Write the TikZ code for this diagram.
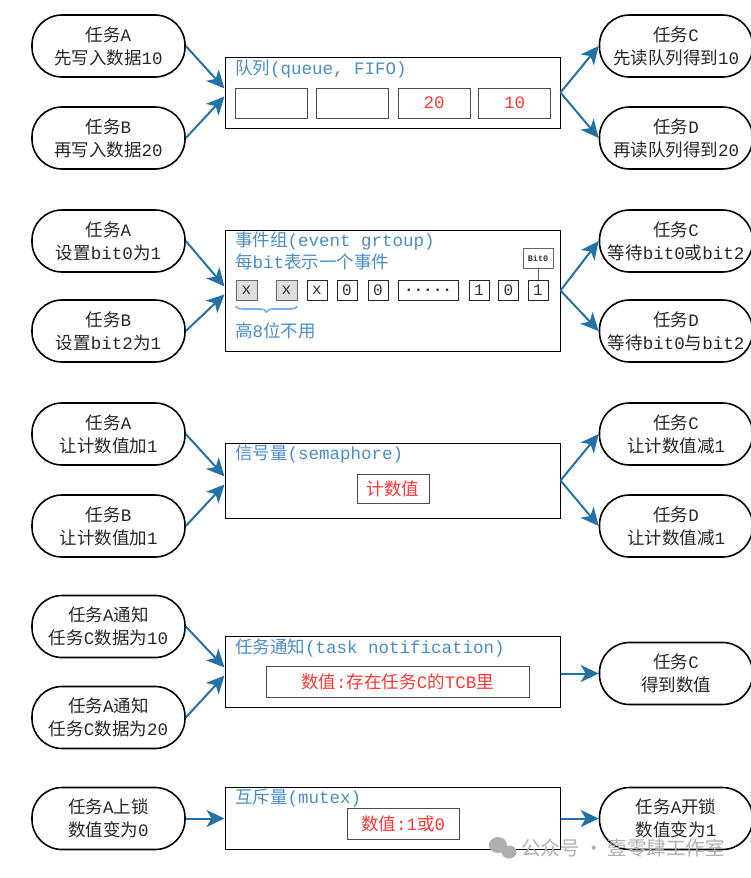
\documentclass[tikz,border=0pt]{standalone}
\usepackage{fontspec}
\setmainfont{Noto Sans CJK SC}
\newfontfamily\monof{Liberation Mono}
\usetikzlibrary{arrows.meta,decorations.pathreplacing,calc}
\definecolor{arrowblue}{RGB}{36,113,163}
\definecolor{titleblue}{RGB}{75,140,195}
\definecolor{redtxt}{RGB}{255,55,55}
\definecolor{cellgrey}{RGB}{222,222,222}
\definecolor{braceblue}{RGB}{125,175,225}
\definecolor{wmgrey}{RGB}{175,175,175}
\newcommand{\mylat}[1]{{\monof #1}}
\tikzset{
  taskbox/.style={draw, line width=1.6pt, rounded corners=30pt, minimum width=153pt, minimum height=62pt,
    align=center, inner sep=0pt, font=\fontsize{17.5}{23}\selectfont, text=black!85},
  bigbox/.style={draw, line width=1pt, minimum width=335pt, inner sep=0pt},
  titletxt/.style={anchor=west, inner sep=0pt, text=titleblue, font=\fontsize{17.5}{20}\selectfont},
  qcell/.style={draw=black!70, line width=0.9pt, minimum width=72pt, minimum height=30pt, inner sep=0pt,
    text=redtxt, font=\fontsize{17.5}{20}\selectfont\monof},
  bcell/.style={draw=black!85, line width=0.9pt, minimum width=20pt, minimum height=20pt, inner sep=0pt,
    font=\fontsize{16}{16}\selectfont\monof, text=black!80},
  gcell/.style={bcell, fill=cellgrey, draw=black!60, minimum width=21pt},
  redbox/.style={draw=black!70, line width=0.9pt, inner sep=0pt, text=redtxt, font=\fontsize{17.5}{20}\selectfont},
  ar/.style={draw=arrowblue, line width=2pt, -{Stealth[length=18pt,width=17pt,inset=5pt]}},
}
\begin{document}
\begin{tikzpicture}[x=1pt,y=-1pt]
\useasboundingbox (0,0) rectangle (751,878);

% ---------------- Row 1: queue
\node[taskbox] (TA1) at (108.5,46) {任务\mylat{A}\\先写入数据\mylat{10}};
\node[taskbox] (TB1) at (108.5,138) {任务\mylat{B}\\再写入数据\mylat{20}};
\node[bigbox, minimum height=71pt] (Q) at (392.5,92.5) {};
\node[titletxt] (Qt) at (235,69) {队列\mylat{(queue, FIFO)}};
\node[qcell] (q1) at (271,103) {};
\node[qcell] (q2) at (352.5,103) {};
\node[qcell] (q3) at (434,103) {20};
\node[qcell] (q4) at (514.5,103) {10};
\node[taskbox] (TC1) at (676,46) {任务\mylat{C}\\先读队列得到\mylat{10}};
\node[taskbox] (TD1) at (676,138) {任务\mylat{D}\\再读队列得到\mylat{20}};
\draw[ar] (TA1.east) -- ([yshift=4pt]Q.west);
\draw[ar] (TB1.east) -- ([yshift=-4pt]Q.west);
\draw[ar] (Q.east) -- (TC1.west);
\draw[ar] (Q.east) -- (TD1.west);

% ---------------- Row 2: event group
\node[taskbox] (TA2) at (108.5,241) {任务\mylat{A}\\设置\mylat{bit0}为\mylat{1}};
\node[taskbox] (TB2) at (108.5,331) {任务\mylat{B}\\设置\mylat{bit2}为\mylat{1}};
\node[bigbox, minimum height=121pt] (EG) at (392.5,290.5) {};
\node[titletxt] (EGt1) at (235,241) {事件组\mylat{(event grtoup)}};
\node[titletxt] (EGt2) at (235,262) {每\mylat{bit}表示一个事件};
\node[gcell] (c1) at (246.5,290.5) {x};
\node[gcell] (c2) at (286.5,290.5) {x};
\node[bcell] (c3) at (317,290.5) {x};
\node[bcell] (c4) at (347,290.5) {0};
\node[bcell] (c5) at (378,290.5) {0};
\node[bcell, minimum width=60pt, font=\fontsize{16}{16}\selectfont\monof\bfseries] (c6) at (428,290.5) {.....};
\node[bcell] (c7) at (479,290.5) {1};
\node[bcell] (c8) at (508.5,290.5) {0};
\node[bcell] (c9) at (538,290.5) {1};
\node[draw=black!60, line width=0.8pt, minimum width=30pt, minimum height=20pt, inner sep=0pt,
  font=\fontsize{8.5}{9}\selectfont\monof\bfseries, text=black!80] (b0) at (538,258) {Bit0};
\draw[arrowblue, line width=0.9pt] (b0.south) -- (c9.north);
\draw[braceblue, line width=1.6pt, decorate, decoration={brace, amplitude=6pt, mirror}]
  ([yshift=-5pt]c1.south west) -- ([yshift=-5pt]c2.south east);
\node[titletxt] (EGt3) at (235,331) {高\mylat{8}位不用};
\node[taskbox] (TC2) at (676,241) {任务\mylat{C}\\等待\mylat{bit0}或\mylat{bit2}};
\node[taskbox] (TD2) at (676,331) {任务\mylat{D}\\等待\mylat{bit0}与\mylat{bit2}};
\draw[ar] (TA2.east) -- ([yshift=4pt]EG.west);
\draw[ar] (TB2.east) -- ([yshift=-4pt]EG.west);
\draw[ar] (EG.east) -- (TC2.west);
\draw[ar] (EG.east) -- (TD2.west);

% ---------------- Row 3: semaphore
\node[taskbox] (TA3) at (108.5,434) {任务\mylat{A}\\让计数值加\mylat{1}};
\node[taskbox] (TB3) at (108.5,526) {任务\mylat{B}\\让计数值加\mylat{1}};
\node[bigbox, minimum height=75pt] (S) at (392.5,480.5) {};
\node[titletxt] (St) at (235,454) {信号量\mylat{(semaphore)}};
\node[redbox, minimum width=72pt, minimum height=29pt] (cnt) at (393,489) {计数值};
\node[taskbox] (TC3) at (676,434) {任务\mylat{C}\\让计数值减\mylat{1}};
\node[taskbox] (TD3) at (676,526) {任务\mylat{D}\\让计数值减\mylat{1}};
\draw[ar] (TA3.east) -- ([yshift=4pt]S.west);
\draw[ar] (TB3.east) -- ([yshift=-4pt]S.west);
\draw[ar] (S.east) -- (TC3.west);
\draw[ar] (S.east) -- (TD3.west);

% ---------------- Row 4: task notification
\node[taskbox] (TA4) at (108.5,626.5) {任务\mylat{A}通知\\任务\mylat{C}数据为\mylat{10}};
\node[taskbox] (TB4) at (108.5,717.5) {任务\mylat{A}通知\\任务\mylat{C}数据为\mylat{20}};
\node[bigbox, minimum height=71pt] (TN) at (392.5,671.5) {};
\node[titletxt] (TNt) at (235,648) {任务通知\mylat{(task notification)}};
\node[redbox, minimum width=263pt, minimum height=31pt] (tcb) at (397.5,681.5) {数值\mylat{:}存在任务\mylat{C}的\mylat{TCB}里};
\node[taskbox] (TC4) at (676,673.5) {任务\mylat{C}\\得到数值};
\draw[ar] (TA4.east) -- ([yshift=4pt]TN.west);
\draw[ar] (TB4.east) -- ([yshift=-4pt]TN.west);
\draw[ar] (TN.east |- TC4.west) -- (TC4.west);

% ---------------- Row 5: mutex
\node[taskbox] (TA5) at (108.5,818.5) {任务\mylat{A}上锁\\数值变为\mylat{0}};
\node[bigbox, minimum height=62pt] (M) at (392.5,818) {};
\node[titletxt] (Mt) at (235,798) {互斥量\mylat{(mutex)}};
\node[redbox, minimum width=112pt, minimum height=31pt] (mv) at (403,823.5) {数值\mylat{:1}或\mylat{0}};
\node[taskbox] (TC5) at (676,818.5) {任务\mylat{A}开锁\\数值变为\mylat{1}};
\draw[ar] (TA5.east) -- (M.west |- TA5.east);
\draw[ar] (M.east |- TC5.west) -- (TC5.west);

% ---------------- watermark
\fill[wmgrey] (498,845) ellipse (9pt and 8pt);
\fill[wmgrey] (509,852) ellipse (7.5pt and 6.5pt);
\node[anchor=west, inner sep=0pt, text=wmgrey, font=\fontsize{19.5}{22}\selectfont] (wm) at (521,848) {公众号 · 壹零肆工作室};
\end{tikzpicture}
\end{document}
